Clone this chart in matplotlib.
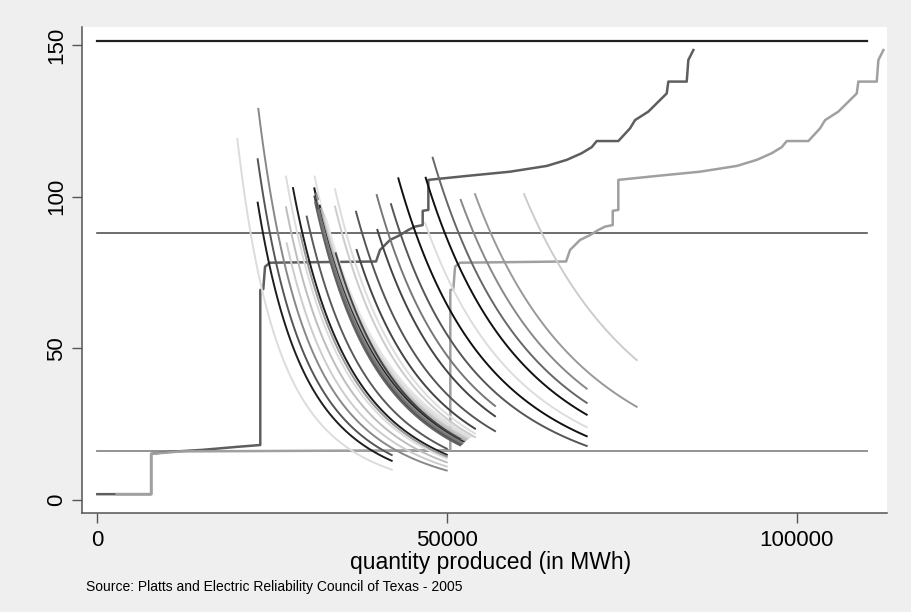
import numpy as np
import matplotlib.pyplot as plt

plt.rcParams['font.family'] = ['Liberation Sans', 'DejaVu Sans']

# --------------------------------
# Reference price levels (horizontal lines)
# --------------------------------
hline_prices = [151.4, 88.1, 16.25]
hline_colors = ['#202020', '#454545', '#8a8a8a']
hline_widths = [1.6, 1.1, 1.3]
hline_xmax = 110000

# --------------------------------
# Supply curves (step functions)
# --------------------------------
supply_dark_q = [0, 7700, 7700, 10000, 15000, 20000, 23300, 23300, 23730, 23980, 24690,
                 39850, 40420, 41850, 43280, 44470, 45430, 46520, 46520, 47330, 47330,
                 52820, 59010, 64260, 67120, 69260, 70690, 71400, 74490, 76170, 76880,
                 78780, 81410, 81640, 84270, 84500, 85220]
supply_dark_p = [1.9, 1.9, 15.2, 15.8, 16.5, 17.5, 18.1, 69.2, 69.5, 76.9, 78.2,
                 78.6, 82.4, 85.7, 87.3, 89.0, 90.1, 90.6, 95.3, 95.6, 105.5,
                 106.8, 108.2, 110.1, 112.1, 114.3, 116.3, 118.3, 118.3, 122.5, 125.2,
                 128.0, 134.0, 137.9, 137.9, 145.0, 148.3]

supply_light_q = [2770, 7700, 7700, 12000, 50470, 50470, 50900, 51150, 51860,
                  67020, 67590, 69020, 70450, 71640, 72600, 73690, 73690, 74490, 74490,
                  79990, 86180, 91430, 94290, 96430, 97860, 98570, 101660, 103340, 104050,
                  105950, 108580, 108810, 111440, 111670, 112390]
supply_light_p = [1.9, 1.9, 15.2, 16.0, 16.4, 69.2, 69.5, 76.9, 78.2,
                  78.6, 82.4, 85.7, 87.3, 89.0, 90.1, 90.6, 95.3, 95.6, 105.5,
                  106.8, 108.2, 110.1, 112.1, 114.3, 116.3, 118.3, 118.3, 122.5, 125.2,
                  128.0, 134.0, 137.9, 137.9, 145.0, 148.3]

# --------------------------------
# Demand curves: (q_top, p_top, q_bottom, p_bottom, grey)
# constant elasticity between the two end points
# --------------------------------
demand = [
    (20020, 119.0, 42090, 10.0, '#dcdcdc'),
    (22930, 112.3, 42090, 14.8, '#555555'),
    (22930, 98.0, 42090, 12.9, '#1e1e1e'),
    (23020, 128.9, 49960, 9.7, '#888888'),
    (26980, 106.6, 49960, 13.7, '#dcdcdc'),
    (26980, 96.5, 49960, 12.4, '#bdbdbd'),
    (27080, 84.6, 49960, 11.0, '#cccccc'),
    (27980, 102.8, 49960, 14.9, '#1e1e1e'),
    (29000, 88.0, 49960, 14.3, '#999999'),
    (29940, 93.4, 49960, 16.9, '#5a5a5a'),
    (31080, 106.6, 51860, 19.3, '#e0e0e0'),
    # dense bundle
    (31030, 102.7, 51860, 18.7, '#111111'),
    (31050, 100.0, 51860, 18.3, '#444444'),
    (31150, 98.0, 51860, 18.0, '#666666'),
    (31300, 101.0, 52000, 19.0, '#888888'),
    (31400, 97.0, 52000, 18.4, '#555555'),
    (31500, 99.5, 52200, 19.2, '#999999'),
    (31600, 95.5, 52200, 18.6, '#777777'),
    (31700, 98.5, 52400, 19.5, '#ffffff'),
    (31800, 97.0, 52400, 19.3, '#222222'),
    (32000, 96.0, 52600, 19.6, '#aaaaaa'),
    (32200, 95.0, 52800, 20.0, '#bbbbbb'),
    (32400, 94.0, 53000, 20.3, '#cccccc'),
    (32600, 93.0, 53300, 20.7, '#dddddd'),
    (32800, 92.0, 53600, 21.0, '#e4e4e4'),
    # right of the bundle
    (33990, 102.4, 54000, 21.9, '#dddddd'),
    (33990, 96.7, 54000, 20.7, '#cccccc'),
    (34090, 81.3, 51860, 20.1, '#444444'),
    (37080, 82.4, 54000, 23.5, '#444444'),
    (36990, 95.0, 56860, 22.7, '#555555'),
    (39950, 100.5, 56860, 31.0, '#777777'),
    (40040, 89.0, 56860, 27.6, '#444444'),
    (41990, 97.5, 69970, 17.8, '#555555'),
    (43040, 106.0, 69970, 21.0, '#111111'),
    (46860, 91.3, 69970, 24.0, '#dddddd'),
    (46950, 106.2, 69970, 28.1, '#111111'),
    (47950, 112.8, 69970, 32.0, '#666666'),
    (51960, 98.9, 69970, 36.7, '#888888'),
    (54000, 100.8, 77120, 30.7, '#999999'),
    (61010, 100.8, 77120, 46.1, '#cccccc'),
]

x_ticks = [0, 50000, 100000]
y_ticks = [0, 50, 100, 150]

# --------------------------------
# Figure
# --------------------------------
bg = '#efefef'
fig = plt.figure(figsize=(9.11, 6.12), dpi=100, facecolor=bg)
ax = fig.add_axes([0.0897, 0.1618, 0.884, 0.7946])
ax.set_facecolor('white')

for p, c, w in zip(hline_prices, hline_colors, hline_widths):
    ax.plot([0, hline_xmax], [p, p], color=c, lw=w, zorder=1)

ax.plot(supply_dark_q, supply_dark_p, color='#5e5e5e', lw=1.8, zorder=2)
ax.plot(supply_light_q, supply_light_p, color='#a0a0a0', lw=1.8, zorder=2)

for q0, p0, q1, p1, col in demand:
    e = np.log(q1 / q0) / np.log(p0 / p1)
    p = np.geomspace(p0, p1, 80)
    q = q0 * (p / p0) ** (-e)
    ax.plot(q, p, color=col, lw=1.4, zorder=3)

ax.set_xlim(-2230, 112910)
ax.set_ylim(-4.3, 156)

for s in ['top', 'right']:
    ax.spines[s].set_visible(False)
for s in ['left', 'bottom']:
    ax.spines[s].set_color('#555555')
    ax.spines[s].set_linewidth(1.1)

ax.set_xticks(x_ticks)
ax.set_xticklabels([str(t) for t in x_ticks])
ax.set_yticks(y_ticks)
ax.set_yticklabels([str(t) for t in y_ticks], rotation=90, va='center')
ax.tick_params(axis='both', direction='out', length=7, width=1.0, color='#555555',
               labelsize=16)
ax.tick_params(axis='x', pad=5)
ax.tick_params(axis='y', pad=3.5)

# axis title placed under the tick labels, as in the source graph
fig.text(0.539, 0.0695, 'quantity produced (in MWh)', fontsize=16.5,
         ha='center', va='baseline')

fig.text(0.0944, 0.041, 'Source: Platts and Electric Reliability Council of Texas - 2005',
         fontsize=10, ha='left', va='center')

fig.savefig('out.png', dpi=100, facecolor=bg)
